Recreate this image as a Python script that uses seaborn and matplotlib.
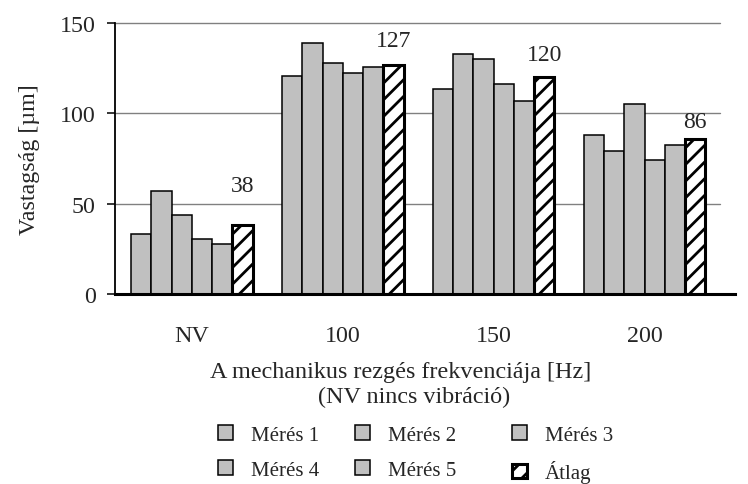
import matplotlib
matplotlib.use("Agg")
import matplotlib.pyplot as plt
import seaborn as sns
import pandas as pd

# ---- data ----
groups = ["NV", "100", "150", "200"]
series_names = ["Mérés 1", "Mérés 2", "Mérés 3", "Mérés 4", "Mérés 5", "Átlag"]
meres1 = [33.3, 120.4, 113.7, 87.8]
meres2 = [57.2, 138.7, 132.6, 79.2]
meres3 = [43.9, 128.0, 129.8, 105.0]
meres4 = [30.6, 122.2, 116.4, 74.4]
meres5 = [27.6, 125.9, 107.0, 82.2]
atlag = [38, 127, 120, 86]
y_ticks = [0, 50, 100, 150]

# ---- style ----
sns.set_style("white")
plt.rcParams["font.family"] = ["Liberation Serif", "DejaVu Serif"]
plt.rcParams["hatch.linewidth"] = 2.0
plt.rcParams["hatch.color"] = "black"

values = [meres1, meres2, meres3, meres4, meres5, atlag]
rows = []
for name, vals in zip(series_names, values):
    for g, v in zip(groups, vals):
        rows.append({"group": g, "series": name, "value": v})
df = pd.DataFrame(rows)

gray = "#c0c0c0"
palette = {n: gray for n in series_names[:5]}
palette["Átlag"] = "white"

W, H = 748, 485
fig = plt.figure(figsize=(W / 100, H / 100), dpi=100)
ax = fig.add_axes([115 / W, 1 - 295 / H, 605 / W, 271 / H])

sns.barplot(data=df, x="group", y="value", hue="series", hue_order=series_names,
            order=groups, palette=palette, width=0.806, gap=0, saturation=1,
            edgecolor="black", linewidth=1.1, legend=False, ax=ax, errorbar=None)

# style average bars
avg_container = ax.containers[5]
for p in avg_container.patches:
    p.set_hatch("//")
    p.set_linewidth(2.2)
    p.set_edgecolor("black")
    p.set_facecolor("white")

# data labels on average bars
label_offsets_pt = [21, 10, 9, 4.5]
for p, v, off in zip(avg_container.patches, atlag, label_offsets_pt):
    ax.annotate(f"{v}", (p.get_x() + p.get_width() / 2, p.get_height()),
                xytext=(0, off), textcoords="offset points",
                ha="center", va="bottom", fontsize=17)

ax.set_xlim(-0.51, 3.5)
ax.set_ylim(0, 150)
ax.set_yticks(y_ticks)
ax.yaxis.grid(True, color="#808080", linewidth=1.0)
for gl in ax.yaxis.get_gridlines():
    gl.set_clip_on(False)
ax.set_axisbelow(True)

for s in ["top", "right"]:
    ax.spines[s].set_visible(False)
ax.spines["left"].set_color("black")
ax.spines["left"].set_linewidth(1.3)
ax.spines["bottom"].set_color("black")
ax.spines["bottom"].set_linewidth(2.2)
ax.spines["bottom"].set_bounds(-0.51, 3.6)

ax.tick_params(axis="y", which="both", left=True, length=6, width=1.1,
               color="black", direction="out", pad=8, labelsize=17.3)
ax.tick_params(axis="x", length=0, pad=22, labelsize=17.3)

ax.set_ylabel("Vastagság [µm]", fontsize=17.3, labelpad=14)
ax.set_xlabel("")

# two-line x axis title
fig.text(401 / W, 1 - 378 / H, "A mechanikus rezgés frekvenciája [Hz]",
         ha="center", va="baseline", fontsize=17.4)
fig.text(414 / W, 1 - 403 / H, "(NV nincs vibráció)",
         ha="center", va="baseline", fontsize=17.4)

# legend: three columns, two rows (row-wise order)
handles = [c.patches[0] for c in ax.containers]
col_x = [218, 355, 512]
col_items = [[0, 3], [1, 4], [2, 5]]
for cx, items in zip(col_x, col_items):
    fig.legend([handles[i] for i in items], [series_names[i] for i in items],
               loc="upper left", bbox_to_anchor=(cx / W, 1 - 426 / H),
               frameon=False, fontsize=15, handlelength=0.72,
               handleheight=0.72, handletextpad=0.85, labelspacing=0.75,
               borderpad=0, borderaxespad=0)

fig.savefig("out.png", dpi=100)
